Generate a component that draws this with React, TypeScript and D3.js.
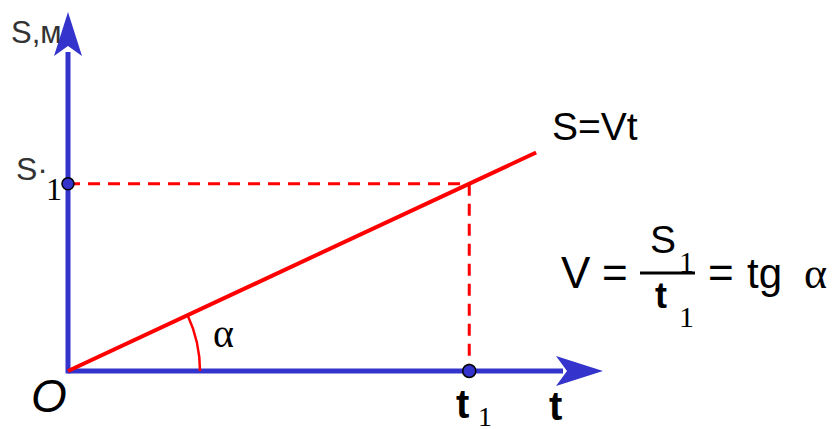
import React from "react";
import * as d3 from "d3";

// Data (arbitrary units)
const lineT: number[] = [0, 7];
const lineS: number[] = [0, 7];
const pointT: number[] = [6];
const pointS: number[] = [6];
const tRange: number[] = [0, 8];
const sRange: number[] = [0, 11.5];

const W = 840;
const H = 429;
const BLUE = "#3434cc";
const RED = "#ff0000";
const FONT = "'Liberation Sans', Arial, sans-serif";
const SERIF = "'Liberation Serif', 'DejaVu Serif', serif";

export default function App() {
  const x = d3.scaleLinear().domain(tRange).range([68, 603]);
  const y = d3.scaleLinear().domain(sRange).range([371, 12]);

  const x0 = x(0);
  const y0 = y(0);
  const xt = x(tRange[1]);
  const yt = y(sRange[1]);

  const line = d3
    .line<number>()
    .x((d) => x(lineT[d]))
    .y((d) => y(lineS[d]));

  const t1 = pointT[0];
  const s1 = pointS[0];
  const px = x(t1);
  const py = y(s1 * (lineS[1] / lineT[1]));
  const sy = y(s1);

  const ang = Math.atan2(y(lineS[1]) - y0, x(lineT[1]) - x0); // negative
  const r = 132;
  const arc = d3
    .arc()
    .innerRadius(r)
    .outerRadius(r)
    .startAngle(Math.PI / 2 + ang)
    .endAngle(Math.PI / 2);

  return (
    <svg
      width={W}
      height={H}
      style={{ position: "absolute", left: 0, top: 0, background: "#fff" }}
    >
      {/* dashed guides */}
      <line x1={x0} y1={sy} x2={px} y2={sy} stroke={RED} strokeWidth={3} strokeDasharray="12 8" />
      <line x1={px} y1={py} x2={px} y2={y0} stroke={RED} strokeWidth={3} strokeDasharray="12 8" />

      {/* axes */}
      <line x1={x0} y1={y0} x2={xt - 40} y2={y0} stroke={BLUE} strokeWidth={5} />
      <line x1={x0} y1={y0 + 2.5} x2={x0} y2={yt + 40} stroke={BLUE} strokeWidth={5} />
      <path
        d={`M${xt},${y0} L${xt - 47},${y0 - 15} L${xt - 36},${y0} L${xt - 47},${y0 + 15} Z`}
        fill={BLUE}
      />
      <path
        d={`M${x0},${yt} L${x0 - 14},${yt + 44} L${x0},${yt + 34} L${x0 + 14},${yt + 44} Z`}
        fill={BLUE}
      />

      {/* angle arc */}
      <path
        d={arc({} as any) || ""}
        transform={`translate(${x0},${y0})`}
        fill="none"
        stroke={RED}
        strokeWidth={2.5}
      />

      {/* main line */}
      <path d={line([0, 1]) || ""} stroke={RED} strokeWidth={4} fill="none" />

      {/* points */}
      <circle cx={x0} cy={sy} r={6} fill={BLUE} stroke="#000" strokeWidth={1.5} />
      <circle cx={px} cy={y0} r={6.5} fill={BLUE} stroke="#000" strokeWidth={1.5} />

      {/* labels */}
      <text x={11} y={43} fontFamily={FONT} fontSize={31} fill="#333">S,м</text>
      <text x={16} y={180} fontFamily={FONT} fontSize={32} fill="#333">S·</text>
      <text x={46} y={200} fontFamily={SERIF} fontSize={32} fill="#000">1</text>
      <text x={31} y={412} fontFamily={FONT} fontSize={46} fontStyle="italic" fill="#000">O</text>
      <text x={456} y={418} fontFamily={FONT} fontSize={40} fontWeight="bold" fill="#000">t</text>
      <text x={478} y={426} fontFamily={SERIF} fontSize={28} fill="#000">1</text>
      <text x={549} y={420} fontFamily={FONT} fontSize={40} fontWeight="bold" fill="#000">t</text>
      <text x={213} y={347} fontFamily={SERIF} fontSize={40} fill="#000">α</text>
      <text x={552} y={140} fontFamily={FONT} fontSize={39} fill="#000">S=Vt</text>

      {/* formula */}
      <text x={561} y={288} fontFamily={FONT} fontSize={44} fill="#000">V</text>
      <text x={602} y={288} fontFamily={FONT} fontSize={44} fill="#000">=</text>
      <text x={650} y={253} fontFamily={FONT} fontSize={39} fill="#000">S</text>
      <text x={679} y={272} fontFamily={SERIF} fontSize={30} fill="#000">1</text>
      <line x1={640} y1={273} x2={695} y2={273} stroke="#000" strokeWidth={3} />
      <text x={655} y={308} fontFamily={FONT} fontSize={36} fontWeight="bold" fill="#000">t</text>
      <text x={679} y={327} fontFamily={SERIF} fontSize={30} fill="#000">1</text>
      <text x={708} y={288} fontFamily={FONT} fontSize={44} fill="#000">=</text>
      <text x={747} y={288} fontFamily={FONT} fontSize={42} fill="#000">tg</text>
      <text x={804} y={288} fontFamily={SERIF} fontSize={44} fill="#000">α</text>
    </svg>
  );
}
